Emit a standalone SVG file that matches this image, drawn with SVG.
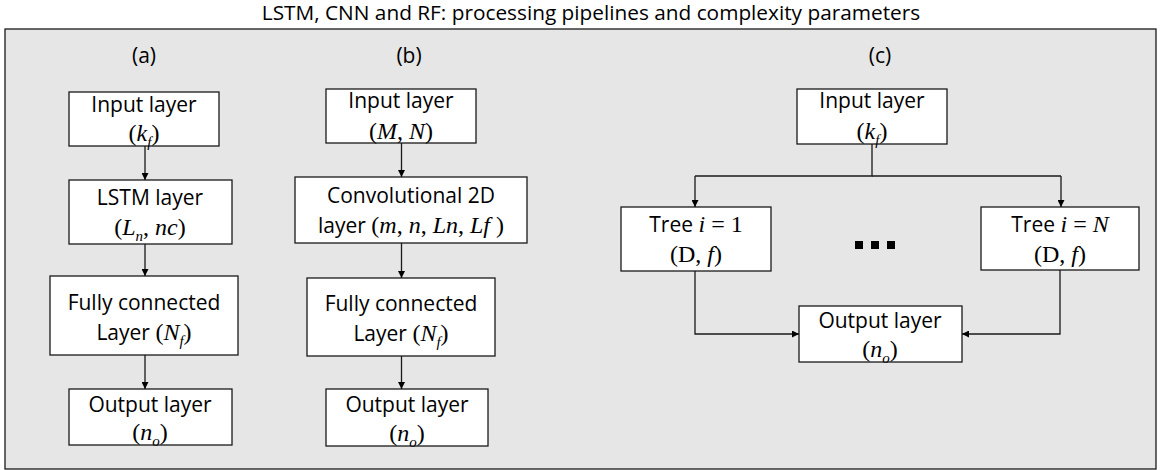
<svg xmlns="http://www.w3.org/2000/svg" width="1161" height="470" viewBox="0 0 1161 470">
<defs>
<marker id="ah" viewBox="0 0 10 10" refX="10" refY="5" markerWidth="7" markerHeight="7" markerUnits="userSpaceOnUse" orient="auto">
<path d="M0,0 L10,5 L0,10 z" fill="#000"/>
</marker>
<style>
.box{fill:#fff;stroke:#1a1a1a;stroke-width:1.3}
.con{fill:none;stroke:#1a1a1a;stroke-width:1.3;marker-end:url(#ah)}
.line{fill:none;stroke:#1a1a1a;stroke-width:1.3}
.t{font-family:"Open Sans","Liberation Sans",sans-serif;font-size:21px;fill:#000;text-anchor:middle}
.ttl{font-size:20.8px}
.m{font-family:"Liberation Serif",serif;font-style:italic;font-size:24px}
.r{font-family:"Liberation Serif",serif;font-style:normal;font-size:24px}
.s{font-size:15px}
</style>
</defs>
<text class="t ttl" x="591" y="20">LSTM, CNN and RF: processing pipelines and complexity parameters</text>
<rect x="5" y="29" width="1151" height="440" fill="#e6e6e6" stroke="#1a1a1a" stroke-width="1.3"/>
<g id="labels">
<text class="t" x="144" y="63">(a)</text>
<text class="t" x="409" y="63">(b)</text>
<text class="t" x="880" y="63">(c)</text>
</g>
<g id="a1"><rect class="box" x="69" y="92" width="150" height="54"/>
<text class="t" x="144" y="112">Input layer</text>
<text class="t" x="144" y="141"><tspan class="r">(</tspan><tspan class="m">k</tspan><tspan class="m s" dy="6">f</tspan><tspan class="r" dy="-6">)</tspan></text></g>
<g id="a2"><rect class="box" x="69" y="180" width="163" height="64"/>
<text class="t" x="150" y="205">LSTM layer</text>
<text class="t" x="150" y="235"><tspan class="r">(</tspan><tspan class="m">L</tspan><tspan class="m s" dy="6">n</tspan><tspan class="r" dy="-6">, </tspan><tspan class="m">nc</tspan><tspan class="r">)</tspan></text></g>
<g id="a3"><rect class="box" x="50" y="276" width="188" height="79"/>
<text class="t" x="144" y="310">Fully connected</text>
<text class="t" x="144" y="340">Layer <tspan class="r">(</tspan><tspan class="m">N</tspan><tspan class="m s" dy="6">f</tspan><tspan class="r" dy="-6">)</tspan></text></g>
<g id="a4"><rect class="box" x="69" y="389" width="163" height="56"/>
<text class="t" x="150" y="412">Output layer</text>
<text class="t" x="150" y="440"><tspan class="r">(</tspan><tspan class="m">n</tspan><tspan class="m s" dy="6">o</tspan><tspan class="r" dy="-6">)</tspan></text></g>
<g id="b1"><rect class="box" x="326" y="89" width="150" height="54"/>
<text class="t" x="401" y="108">Input layer</text>
<text class="t" x="401" y="139"><tspan class="r">(</tspan><tspan class="m">M</tspan><tspan class="r">, </tspan><tspan class="m">N</tspan><tspan class="r">)</tspan></text></g>
<g id="b2"><rect class="box" x="295" y="177" width="232" height="66"/>
<text class="t" x="411" y="203">Convolutional 2D</text>
<text class="t" x="411" y="233">layer <tspan class="r">(</tspan><tspan class="m">m</tspan><tspan class="r">, </tspan><tspan class="m">n</tspan><tspan class="r">, </tspan><tspan class="m">Ln</tspan><tspan class="r">, </tspan><tspan class="m">Lf</tspan><tspan class="r"> )</tspan></text></g>
<g id="b3"><rect class="box" x="307" y="278" width="188" height="78"/>
<text class="t" x="401" y="311">Fully connected</text>
<text class="t" x="401" y="341">Layer <tspan class="r">(</tspan><tspan class="m">N</tspan><tspan class="m s" dy="6">f</tspan><tspan class="r" dy="-6">)</tspan></text></g>
<g id="b4"><rect class="box" x="326" y="389" width="162" height="57"/>
<text class="t" x="407" y="412">Output layer</text>
<text class="t" x="407" y="441"><tspan class="r">(</tspan><tspan class="m">n</tspan><tspan class="m s" dy="6">o</tspan><tspan class="r" dy="-6">)</tspan></text></g>
<g id="c1"><rect class="box" x="797" y="89" width="150" height="55"/>
<text class="t" x="872" y="108">Input layer</text>
<text class="t" x="872" y="139"><tspan class="r">(</tspan><tspan class="m">k</tspan><tspan class="m s" dy="6">f</tspan><tspan class="r" dy="-6">)</tspan></text></g>
<g id="c2"><rect class="box" x="621" y="207" width="150" height="64"/>
<text class="t" x="696" y="232">Tree <tspan class="m">i</tspan><tspan class="r"> = 1</tspan></text>
<text class="t" x="696" y="262"><tspan class="r">(D, </tspan><tspan class="m">f</tspan><tspan class="r">)</tspan></text></g>
<g id="c3"><rect class="box" x="981" y="207" width="158" height="63"/>
<text class="t" x="1060" y="232">Tree <tspan class="m">i</tspan><tspan class="r"> = </tspan><tspan class="m">N</tspan></text>
<text class="t" x="1060" y="262"><tspan class="r">(D, </tspan><tspan class="m">f</tspan><tspan class="r">)</tspan></text></g>
<g id="dots" fill="#000"><rect x="855" y="241" width="8" height="8"/><rect x="871" y="241" width="8" height="8"/><rect x="887" y="241" width="8" height="8"/></g>
<g id="c4"><rect class="box" x="799" y="306" width="163" height="56"/>
<text class="t" x="880" y="328">Output layer</text>
<text class="t" x="880" y="357"><tspan class="r">(</tspan><tspan class="m">n</tspan><tspan class="m s" dy="6">o</tspan><tspan class="r" dy="-6">)</tspan></text></g>
<g id="connectors">
<path class="con" d="M145,146 V180"/>
<path class="con" d="M145,244 V276"/>
<path class="con" d="M145,355 V389"/>
<path class="con" d="M401.5,143 V177"/>
<path class="con" d="M401.5,243 V278"/>
<path class="con" d="M401.5,356 V389"/>
<path class="line" d="M872,144 V176 H695"/>
<path class="con" d="M695,176 V207"/>
<path class="line" d="M872,176 H1061"/>
<path class="con" d="M1061,176 V207"/>
<path class="con" d="M695,271 V334 H799"/>
<path class="con" d="M1060,270 V334 H962"/>
</g>
</svg>
